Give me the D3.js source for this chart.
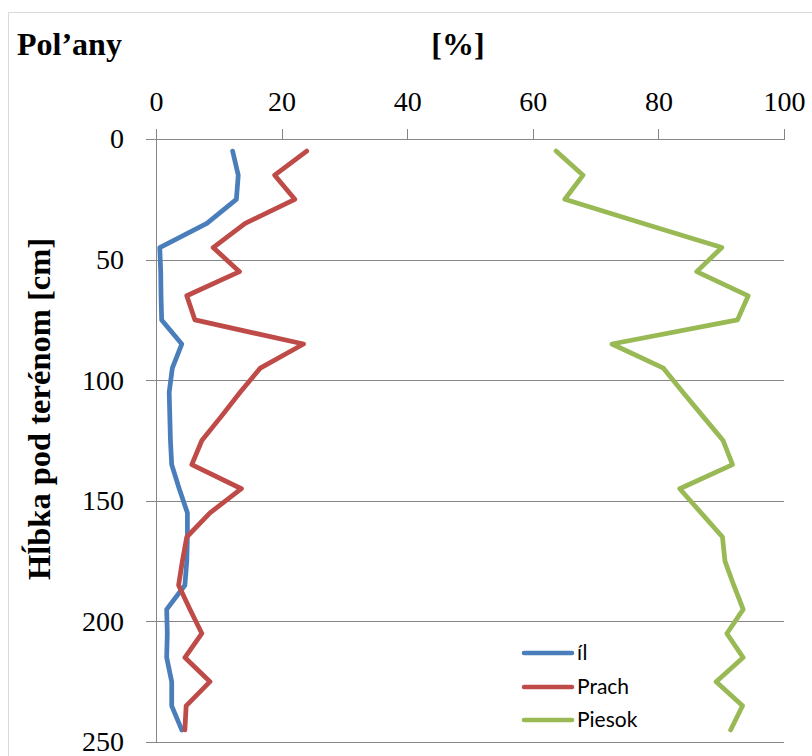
<!DOCTYPE html>
<html>
<head>
<meta charset="utf-8">
<script src="https://cdn.jsdelivr.net/npm/d3@7/dist/d3.min.js"></script>
<style>
  html, body { margin: 0; padding: 0; background: #fff; }
  svg { display: block; }
</style>
</head>
<body>
<script>
// Depth of each sample below the ground surface [cm]
const depths = [5, 15, 25, 35, 45, 55, 65, 75, 85, 95, 105, 115, 125,
                135, 145, 155, 165, 175, 185, 195, 205, 215, 225, 235, 245];

// Grain-size fractions [%]
const il = [12.2, 13.1, 12.8, 8.1, 0.6, 0.75, 0.8, 0.9, 4.1, 2.6, 2.1, 2.2, 2.3,
            2.5, 3.7, 5.0, 5.0, 4.9, 4.6, 1.7, 1.8, 1.7, 2.5, 2.5, 4.1];
const prach = [24.0, 18.9, 22.1, 14.2, 9.1, 13.3, 4.9, 6.2, 23.5, 16.6, 13.4, 10.4, 7.3,
               5.7, 13.6, 8.6, 4.9, 4.2, 3.6, 5.4, 7.3, 4.6, 8.6, 4.8, 4.6];
const piesok = [63.7, 68.0, 65.1, 77.6, 90.1, 86.1, 94.3, 92.6, 72.6, 80.8, 83.9, 87.1, 90.3,
                91.8, 83.4, 86.8, 90.2, 90.6, 92.0, 93.5, 90.9, 93.5, 89.2, 93.4, 91.5];

const seriesNames = ["íl", "Prach", "Piesok"];
const seriesColors = ["#4A7EBB", "#BE4B48", "#98B954"];
const xTicks = [0, 20, 40, 60, 80, 100];
const yTicks = [0, 50, 100, 150, 200, 250];

const W = 812, H = 756;
const plot = { left: 156, right: 784, top: 139, bottom: 742 };

const svg = d3.select("body").append("svg")
  .attr("width", W).attr("height", H);

svg.append("rect").attr("width", W).attr("height", H).attr("fill", "#fff");

// chart area border (left and top edges)
svg.append("path")
  .attr("d", `M8.5,${H} V12.5 H${W}`)
  .attr("fill", "none").attr("stroke", "#d9d9d9").attr("stroke-width", 1);

const x = d3.scaleLinear().domain([0, 100]).range([plot.left, plot.right]);
const y = d3.scaleLinear().domain([0, 250]).range([plot.top, plot.bottom]);

const gridColor = "#868686";
const serif = "'Liberation Serif', 'Times New Roman', serif";

// horizontal gridlines
const grid = svg.append("g")
  .attr("transform", `translate(${plot.left},0)`)
  .call(d3.axisLeft(y).tickValues(yTicks).tickSize(-(plot.right - plot.left)).tickFormat(""));
grid.select(".domain").remove();
grid.selectAll("line").attr("stroke", gridColor).attr("shape-rendering", "crispEdges");

// y axis (depth)
const yAxis = svg.append("g")
  .attr("transform", `translate(${plot.left},0)`)
  .call(d3.axisLeft(y).tickValues(yTicks).tickSize(10).tickSizeOuter(0).tickPadding(22));
yAxis.select(".domain").attr("stroke", gridColor).attr("shape-rendering", "crispEdges");
yAxis.selectAll("line").attr("stroke", gridColor).attr("shape-rendering", "crispEdges");
yAxis.selectAll("text")
  .attr("font-family", serif).attr("font-size", 28).attr("fill", "#000");

// x axis (percent) along the top
const xAxis = svg.append("g")
  .attr("transform", `translate(0,${plot.top})`)
  .call(d3.axisTop(x).tickValues(xTicks).tickSize(10).tickSizeOuter(0).tickPadding(18));
xAxis.select(".domain").attr("stroke", gridColor).attr("shape-rendering", "crispEdges");
xAxis.selectAll("line").attr("stroke", gridColor).attr("shape-rendering", "crispEdges");
xAxis.selectAll("text")
  .attr("font-family", serif).attr("font-size", 28).attr("fill", "#000");

// series lines
const allSeries = [il, prach, piesok];
const line = d3.line()
  .x(d => x(d[0]))
  .y(d => y(d[1]));

allSeries.forEach((vals, i) => {
  svg.append("path")
    .datum(vals.map((v, j) => [v, depths[j]]))
    .attr("d", line)
    .attr("fill", "none")
    .attr("stroke", seriesColors[i])
    .attr("stroke-width", 4.75)
    .attr("stroke-linejoin", "round")
    .attr("stroke-linecap", "round");
});

// titles
svg.append("text")
  .attr("x", 17).attr("y", 55)
  .attr("font-family", serif).attr("font-weight", "bold").attr("font-size", 32)
  .text("Pol’any");

svg.append("text")
  .attr("x", 458).attr("y", 55).attr("text-anchor", "middle")
  .attr("font-family", serif).attr("font-weight", "bold").attr("font-size", 32)
  .text("[%]");

svg.append("text")
  .attr("transform", `translate(50,409) rotate(-90)`)
  .attr("text-anchor", "middle")
  .attr("font-family", serif).attr("font-weight", "bold").attr("font-size", 32.5)
  .text("Hĺbka pod terénom [cm]");

// legend
const legendY = [653, 687, 720];
const legend = svg.append("g");
seriesNames.forEach((name, i) => {
  legend.append("line")
    .attr("x1", 524).attr("x2", 572)
    .attr("y1", legendY[i]).attr("y2", legendY[i])
    .attr("stroke", seriesColors[i]).attr("stroke-width", 4.5)
    .attr("stroke-linecap", "round");
  legend.append("text")
    .attr("x", 577).attr("y", legendY[i])
    .attr("dy", "0.35em")
    .attr("font-family", "Lato, 'Open Sans', sans-serif")
    .attr("font-size", 21)
    .attr("fill", "#000")
    .text(name);
});
</script>
</body>
</html>
